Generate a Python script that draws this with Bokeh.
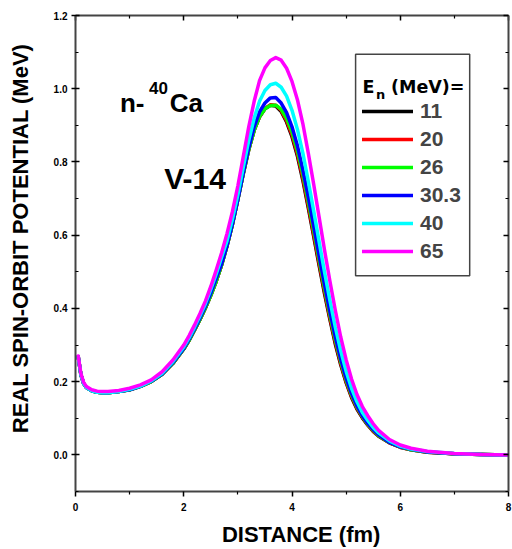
from bokeh.plotting import figure
from bokeh.models import (Range1d, LinearAxis, FixedTicker, PrintfTickFormatter,
                          Legend, LegendItem, Label)
from bokeh.embed import file_html
from bokeh.resources import INLINE

# ---------------- data ----------------
distance = [0.05, 0.1, 0.15, 0.2, 0.3, 0.4, 0.5, 0.6, 0.8, 1.0, 1.2, 1.4, 1.6, 1.8,
            2.0, 2.1, 2.2, 2.3, 2.4, 2.5, 2.6, 2.7, 2.8, 2.9, 3.0, 3.1, 3.2, 3.3, 3.4, 3.5, 3.6, 3.7,
            3.8, 3.9, 4.0, 4.1, 4.2, 4.3, 4.4, 4.5, 4.6, 4.7, 4.8, 4.9, 5.0, 5.1, 5.2, 5.3, 5.4, 5.5, 5.6,
            5.8, 6.0, 6.2, 6.5, 7.0, 7.5, 8.0]

v_11 = [0.268, 0.219, 0.195, 0.184, 0.175, 0.171, 0.170, 0.170, 0.173, 0.178, 0.187, 0.200, 0.220, 0.250,
        0.289, 0.313, 0.341, 0.370, 0.401, 0.436, 0.474, 0.519, 0.571, 0.630, 0.698, 0.768, 0.833, 0.886,
        0.923, 0.945, 0.955, 0.953,
        0.938, 0.909, 0.869, 0.816, 0.750, 0.675, 0.597, 0.518, 0.441, 0.370, 0.303, 0.246, 0.197, 0.157,
        0.125, 0.101, 0.081, 0.064, 0.051,
        0.033, 0.021, 0.014, 0.007, 0.003, 0.001, 0.000]
v_20 = [0.268, 0.219, 0.195, 0.184, 0.175, 0.171, 0.170, 0.170, 0.173, 0.178, 0.187, 0.200, 0.220, 0.250,
        0.289, 0.313, 0.341, 0.370, 0.401, 0.436, 0.474, 0.519, 0.571, 0.630, 0.698, 0.768, 0.833, 0.886,
        0.924, 0.946, 0.956, 0.955,
        0.941, 0.913, 0.874, 0.822, 0.756, 0.681, 0.603, 0.524, 0.447, 0.375, 0.308, 0.250, 0.200, 0.160,
        0.128, 0.103, 0.082, 0.065, 0.052,
        0.033, 0.021, 0.014, 0.007, 0.003, 0.001, 0.000]
v_26 = [0.268, 0.219, 0.195, 0.184, 0.175, 0.171, 0.170, 0.170, 0.173, 0.178, 0.187, 0.200, 0.220, 0.250,
        0.289, 0.313, 0.341, 0.370, 0.401, 0.436, 0.474, 0.519, 0.571, 0.630, 0.698, 0.768, 0.833, 0.886,
        0.924, 0.945, 0.954, 0.955,
        0.944, 0.919, 0.882, 0.831, 0.767, 0.692, 0.614, 0.534, 0.456, 0.383, 0.315, 0.256, 0.205, 0.164,
        0.131, 0.105, 0.084, 0.067, 0.053,
        0.034, 0.022, 0.014, 0.008, 0.003, 0.001, 0.000]
v_30_3 = [0.268, 0.219, 0.195, 0.184, 0.175, 0.171, 0.170, 0.170, 0.173, 0.178, 0.187, 0.201, 0.221, 0.252,
          0.291, 0.316, 0.344, 0.374, 0.406, 0.442, 0.482, 0.522, 0.572, 0.631, 0.698, 0.770, 0.838, 0.895,
          0.937, 0.961, 0.975, 0.976,
          0.961, 0.935, 0.896, 0.844, 0.779, 0.705, 0.626, 0.545, 0.466, 0.392, 0.323, 0.262, 0.210, 0.168,
          0.134, 0.107, 0.086, 0.069, 0.055,
          0.034, 0.022, 0.015, 0.008, 0.003, 0.001, 0.000]
v_40 = [0.268, 0.219, 0.195, 0.184, 0.175, 0.171, 0.170, 0.170, 0.173, 0.179, 0.188, 0.202, 0.223, 0.255,
        0.295, 0.320, 0.349, 0.380, 0.413, 0.452, 0.494, 0.540, 0.585, 0.644, 0.711, 0.786, 0.858, 0.919,
        0.966, 0.995, 1.011, 1.015,
        1.004, 0.980, 0.941, 0.889, 0.825, 0.748, 0.667, 0.583, 0.500, 0.422, 0.349, 0.284, 0.228, 0.182,
        0.145, 0.116, 0.094, 0.075, 0.060,
        0.038, 0.024, 0.016, 0.009, 0.004, 0.001, 0.000]
v_65 = [0.270, 0.222, 0.198, 0.187, 0.178, 0.174, 0.173, 0.173, 0.176, 0.182, 0.191, 0.205, 0.227, 0.259,
        0.300, 0.326, 0.355, 0.386, 0.420, 0.460, 0.505, 0.552, 0.605, 0.665, 0.735, 0.815, 0.895, 0.965,
        1.022, 1.057, 1.077, 1.085,
        1.078, 1.056, 1.020, 0.970, 0.905, 0.825, 0.740, 0.650, 0.560, 0.475, 0.395, 0.322, 0.260, 0.207,
        0.165, 0.132, 0.107, 0.085, 0.067,
        0.042, 0.027, 0.018, 0.010, 0.004, 0.001, 0.000]

energies = ["11", "20", "26", "30.3", "40", "65"]
series = [v_11, v_20, v_26, v_30_3, v_40, v_65]
colors = ["#000000", "#ff0000", "#00ff00", "#0000ff", "#00ffff", "#ff00ff"]

x_major = [0, 2, 4, 6, 8]
x_minor = [1, 3, 5, 7]
y_major = [0.0, 0.2, 0.4, 0.6, 0.8, 1.0, 1.2]
y_minor = [-0.1, 0.1, 0.3, 0.5, 0.7, 0.9, 1.1]

# ---------------- figure ----------------
p = figure(width=512, height=549, output_backend="svg", toolbar_location=None,
           x_range=Range1d(0, 8), y_range=Range1d(-0.1, 1.2),
           min_border_left=75, min_border_right=4, min_border_top=15, min_border_bottom=57)
p.xgrid.visible = False
p.ygrid.visible = False
p.outline_line_color = None
p.background_fill_color = "white"
p.border_fill_color = "white"

AX_COL = "#444444"
FONT = "Liberation Sans"
NB = "\u00a0"

def style_axis(ax, labels=True):
    ax.axis_line_color = AX_COL
    ax.axis_line_width = 2
    ax.major_tick_line_color = "black"
    ax.major_tick_line_width = 1.5
    ax.minor_tick_line_color = "black"
    ax.minor_tick_line_width = 1.2
    ax.major_label_text_font = FONT
    ax.major_label_text_font_style = "bold"
    if labels:
        ax.major_label_text_color = "black"
        ax.major_label_text_font_size = "10px"
    else:
        ax.major_label_text_color = None
        ax.major_label_text_font_size = "0px"
        ax.major_label_standoff = 0

xb = p.below[0]
xb.ticker = FixedTicker(ticks=x_major, minor_ticks=x_minor)
style_axis(xb)
xb.major_tick_in = 0
xb.major_tick_out = 5
xb.minor_tick_in = 0
xb.minor_tick_out = 3
xb.major_label_standoff = 6
xb.axis_label = NB * 3 + "DISTANCE (fm)"
xb.axis_label_text_font = FONT
xb.axis_label_text_font_style = "bold"
xb.axis_label_text_font_size = "22px"
xb.axis_label_text_color = "black"
xb.axis_label_standoff = 8

yl = p.left[0]
yl.ticker = FixedTicker(ticks=y_major, minor_ticks=y_minor)
yl.formatter = PrintfTickFormatter(format="%.1f")
style_axis(yl)
yl.major_tick_in = 4
yl.major_tick_out = 4
yl.minor_tick_in = 3
yl.minor_tick_out = 0
yl.major_label_standoff = 4
yl.axis_label = NB * 5 + "REAL SPIN-ORBIT POTENTIAL (MeV)"
yl.axis_label_text_font = FONT
yl.axis_label_text_font_style = "bold"
yl.axis_label_text_font_size = "22px"
yl.axis_label_text_color = "black"
yl.axis_label_standoff = 18

xt = LinearAxis(ticker=FixedTicker(ticks=x_major, minor_ticks=x_minor))
style_axis(xt, labels=False)
xt.major_tick_in = 5
xt.major_tick_out = 0
xt.minor_tick_in = 3
xt.minor_tick_out = 0
p.add_layout(xt, "above")

yr = LinearAxis(ticker=FixedTicker(ticks=y_major, minor_ticks=y_minor))
style_axis(yr, labels=False)
yr.major_tick_in = 5
yr.major_tick_out = 0
yr.minor_tick_in = 3
yr.minor_tick_out = 0
p.add_layout(yr, "right")

# legend frame (layout element, positioned where the reference draws it)
p.quad(left=5.175, right=7.283, top=1.094, bottom=0.489,
       fill_color=None, line_color=AX_COL, line_width=1.5)

renderers = []
for vals, col in zip(series, colors):
    r = p.line(distance, vals, line_color=col, line_width=3.5, line_join="round", line_cap="round")
    renderers.append(r)

legend = Legend(items=[LegendItem(label=e, renderers=[r]) for e, r in zip(energies, renderers)],
                location=(287, 226), padding=7, spacing=0,
                label_text_font=FONT, label_text_font_style="bold",
                label_text_font_size="21px", label_height=28, glyph_height=28, glyph_width=51,
                label_standoff=7, border_line_color=None, background_fill_color=None)
p.add_layout(legend)

TITLE = dict(text_font="DejaVu Sans", text_font_style="bold", text_color="black",
             text_baseline="alphabetic")
p.add_layout(Label(x=5.303, y=1.005, text="E", text_font_size="17.5px", **TITLE))
p.add_layout(Label(x=5.550, y=0.983, text="n", text_font_size="13px", **TITLE))
p.add_layout(Label(x=5.829, y=1.005, text="(MeV)=", text_font_size="17.5px", **TITLE))

BOLD = dict(text_font=FONT, text_font_style="bold", text_color="black")
p.add_layout(Label(x=0.82, y=0.96, text="n-", text_font_size="26px", text_baseline="alphabetic", **BOLD))
p.add_layout(Label(x=1.36, y=1.001, text="40", text_font_size="17px", text_baseline="alphabetic", **BOLD))
p.add_layout(Label(x=1.74, y=0.96, text="Ca", text_font_size="26px", text_baseline="alphabetic", **BOLD))
p.add_layout(Label(x=1.64, y=0.755, text="V-14", text_font_size="30px", text_baseline="alphabetic", **BOLD))

open("out.html", "w").write(file_html(p, INLINE))
